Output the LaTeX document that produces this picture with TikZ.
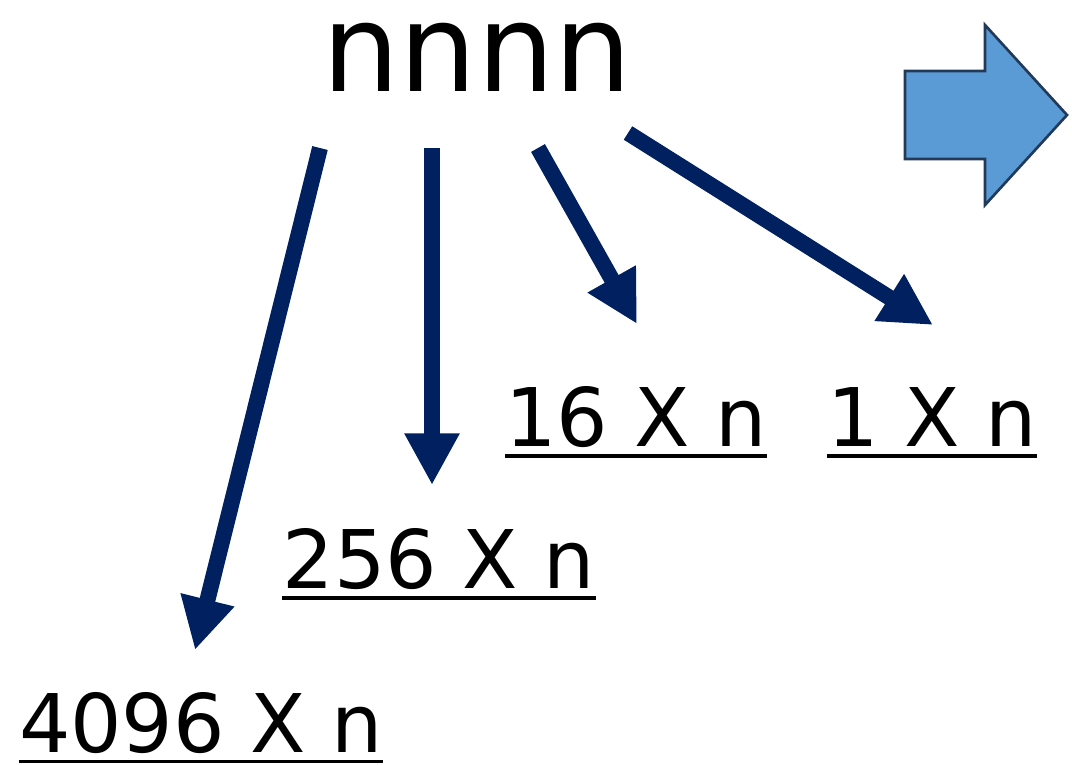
\documentclass[tikz,border=0pt]{standalone}
\usepackage{fontspec}
\setmainfont{DejaVu Sans}
\usepackage{tikz}
\usetikzlibrary{calc, arrows.meta}
\tikzset{>=latex}
\definecolor{mynavy}{RGB}{0, 32, 96}
\definecolor{myblue}{RGB}{91, 155, 213}
\definecolor{myedge}{RGB}{34, 58, 90}
\tikzset{
  factorarrow/.style = {mynavy, line width = 12pt, -{Triangle[length = 39pt, width = 39pt]}},
  factortext/.style = {anchor = base, inner sep = 0, font = \fontsize{61}{70}\selectfont},
  uline/.style = {line width = 2.6pt}
}

\begin{document}
\begin{tikzpicture}[x = 0.0265cm, y = -0.0265cm]

\useasboundingbox (0, 0) rectangle (1072, 764); % page size

\node[anchor = base, inner sep = 0, font = \fontsize{92}{105}\selectfont] (digits) at (477, 91) {nnnn};

% labels
\node[factortext] (f4096) at (201, 752) {4096 X n};
\node[factortext] (f256) at (439, 588) {256 X n};
\node[factortext] (f16) at (636, 446) {16 X n};
\node[factortext] (f1) at (932, 446) {1 X n};

\draw[uline] ($(f4096.base west) + (0, 9.5)$) -- ($(f4096.base east) + (0, 9.5)$);
\draw[uline] ($(f256.base west) + (0, 10)$) -- ($(f256.base east) + (0, 10)$);
\draw[uline] ($(f16.base west) + (0, 10)$) -- ($(f16.base east) + (0, 10)$);
\draw[uline] ($(f1.base west) + (0, 10)$) -- ($(f1.base east) + (0, 10)$);

% arrows
\coordinate (s4096) at (320, 148);
\coordinate (e4096) at (195, 650);
\coordinate (s256) at (432, 148);
\coordinate (e256) at (432, 485);
\coordinate (s16) at (538, 148);
\coordinate (e16) at (637, 324);
\coordinate (s1) at (628, 133);
\coordinate (e1) at (933, 325);

\draw[factorarrow] (s4096) -- (e4096);
\draw[factorarrow] (s256) -- (e256);
\draw[factorarrow] (s16) -- (e16);
\draw[factorarrow] (s1) -- (e1);

% block arrow
\draw[myedge, fill = myblue, line width = 2pt, line join = miter]
(905, 71) -- (985, 71) -- (985, 25) -- (1067, 115) -- (985, 205) -- (985, 159) -- (905, 159) -- cycle;

\end{tikzpicture}
\end{document}
